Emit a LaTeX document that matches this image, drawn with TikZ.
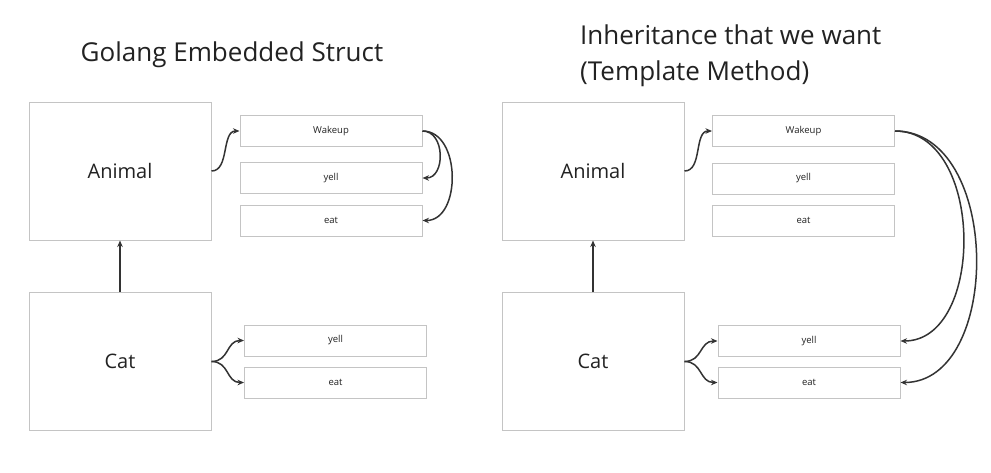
\documentclass[tikz,border=0pt]{standalone}
\usepackage{fontspec}
\setmainfont{Open Sans}
\usetikzlibrary{arrows.meta}
\definecolor{boxline}{HTML}{C4C4C4}
\definecolor{ink}{HTML}{222222}
\definecolor{wire}{HTML}{333333}
\begin{document}
\begin{tikzpicture}[x=1pt,y=-1pt,
  bigbox/.style={draw=boxline,line width=1pt,minimum width=182pt,minimum height=138pt,inner sep=0pt,text=ink,font=\fontsize{20}{24}\selectfont},
  smallbox/.style={draw=boxline,line width=1pt,minimum width=182pt,minimum height=31pt,inner sep=0pt,text=ink,font=\fontsize{9.5}{11}\selectfont},
  title/.style={text=ink,font=\fontsize{26}{36}\selectfont,inner sep=0pt},
  wirestyle/.style={draw=wire,line width=1.5pt,-{Stealth[length=6.5pt,width=5.5pt]}}]
\useasboundingbox (0,0) rectangle (991,472);
\fill[white] (0,0) rectangle (991,472);
% titles
\node[title] (t1) at (232,55) {Golang Embedded Struct};
\node[title,anchor=west,align=left] (t2) at (580,56) {Inheritance that we want\\(Template Method)};
% left
\node[bigbox] (a1) at (120,171) {Animal};
\node[bigbox] (c1) at (120,361.5) {Cat};
\node[smallbox] (w1) at (331,131) {Wakeup};
\node[smallbox] (y1) at (331,178) {yell};
\node[smallbox] (e1) at (331,220.5) {eat};
\node[smallbox] (cy1) at (335.5,340.5) {yell};
\node[smallbox] (ce1) at (335.5,382.5) {eat};
% right
\node[bigbox] (a2) at (593,171) {Animal};
\node[bigbox] (c2) at (593,361.5) {Cat};
\node[smallbox] (w2) at (803.5,131) {Wakeup};
\node[smallbox] (y2) at (803.5,178.5) {yell};
\node[smallbox] (e2) at (803.5,220.5) {eat};
\node[smallbox] (cy2) at (809,341) {yell};
\node[smallbox] (ce2) at (809,382.5) {eat};
% connectors left
\draw[wirestyle] (c1.north) -- (a1.south);
\draw[wirestyle] (a1.east) .. controls +(18,0) and +(-18,0) .. (w1.west);
\draw[wirestyle] (w1.east) .. controls +(23,0) and +(23,0) .. (y1.east);
\draw[wirestyle] (w1.east) .. controls +(39,0) and +(39,0) .. (e1.east);
\draw[wirestyle] (c1.east) .. controls +(18,0) and +(-18,0) .. (cy1.west);
\draw[wirestyle] (c1.east) .. controls +(18,0) and +(-18,0) .. (ce1.west);
% connectors right
\draw[wirestyle] (c2.north) -- (a2.south);
\draw[wirestyle] (a2.east) .. controls +(18,0) and +(-18,0) .. (w2.west);
\draw[wirestyle] (c2.east) .. controls +(18,0) and +(-18,0) .. (cy2.west);
\draw[wirestyle] (c2.east) .. controls +(18,0) and +(-18,0) .. (ce2.west);
\draw[wirestyle] (w2.east) .. controls +(90,0) and +(85,0) .. (cy2.east);
\draw[wirestyle] (w2.east) .. controls +(107,0) and +(102,0) .. (ce2.east);
\end{tikzpicture}
\end{document}
